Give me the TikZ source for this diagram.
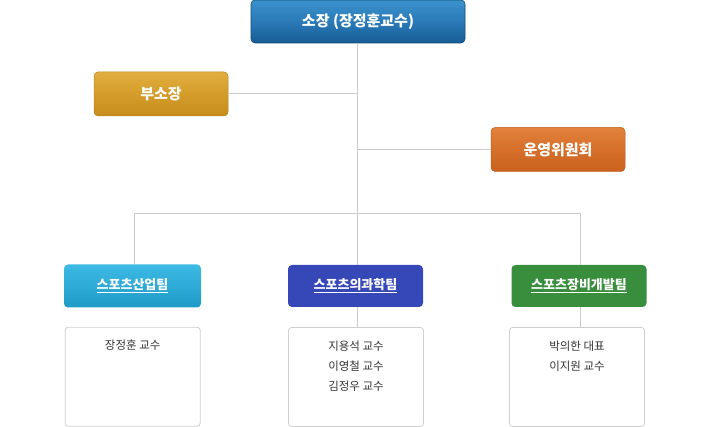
\documentclass[tikz,border=0pt]{standalone}
\usepackage{fontspec}
\setmainfont{Noto Sans CJK KR}
\definecolor{lineg}{HTML}{CCCCCC}
\definecolor{bluetop}{HTML}{3A92CC}
\definecolor{bluemid}{HTML}{2A7AB8}
\definecolor{bluebot}{HTML}{165C94}
\definecolor{goldtop}{HTML}{E2AE40}
\definecolor{goldmid}{HTML}{D49C2A}
\definecolor{goldbot}{HTML}{C68D1E}
\definecolor{orgtop}{HTML}{E2823C}
\definecolor{orgmid}{HTML}{D56F2A}
\definecolor{orgbot}{HTML}{C9621E}
\definecolor{skytop}{HTML}{3CBAE4}
\definecolor{skybot}{HTML}{1E9AC6}
\definecolor{teamblue}{HTML}{3648B8}
\definecolor{teamgreen}{HTML}{388E3C}
\definecolor{memtext}{HTML}{333333}
\definecolor{memborder}{HTML}{CFCFCF}
\tikzset{
  conn/.style={draw=lineg, line width=1pt},
  titlebox/.style={rectangle, rounded corners=4pt, text=white, font=\bfseries\fontsize{15}{17}\selectfont, inner sep=0pt, align=center},
  teambox/.style={rectangle, rounded corners=4pt, text=white, font=\bfseries\fontsize{13}{15}\selectfont, inner sep=0pt, align=center, minimum width=135pt, minimum height=42pt},
  membox/.style={rectangle, rounded corners=3pt, draw=memborder, line width=0.8pt, fill=white, minimum width=135pt, minimum height=99pt, inner sep=0pt},
  memtxt/.style={text=memtext, font=\fontsize{11.5}{20}\selectfont, align=center, anchor=north}
}
\begin{document}
\begin{tikzpicture}[x=1pt,y=-1pt]
\useasboundingbox (0,0) rectangle (715,427);
% nodes
\node[titlebox, minimum width=214pt, minimum height=43pt, top color=bluetop, bottom color=bluebot, middle color=bluemid, draw=bluebot!80!black, line width=0.6pt] (top) at (358,21.5) {소장 (장정훈교수)};
\node[titlebox, minimum width=134pt, minimum height=44pt, top color=goldtop, bottom color=goldbot, middle color=goldmid, draw=goldbot!95!black, line width=0.5pt] (bu) at (161,94) {부소장};
\node[titlebox, minimum width=134pt, minimum height=44pt, top color=orgtop, bottom color=orgbot, middle color=orgmid, draw=orgbot!95!black, line width=0.5pt] (op) at (558,149.5) {운영위원회};
\node[teambox, minimum width=137pt, minimum height=43pt, top color=skytop, bottom color=skybot] (t1) at (132.5,286) {\underline{스포츠산업팀}};
\node[teambox, fill=teamblue] (t2) at (355.5,286) {\underline{스포츠의과학팀}};
\node[teambox, fill=teamgreen] (t3) at (579,286) {\underline{스포츠장비개발팀}};
\node[membox] (m1) at (132.7,376.7) {};
\node[membox] (m2) at (356,377) {};
\node[membox] (m3) at (577,377) {};
\node[memtxt] (m1t) at (132.7,336.5) {장정훈 교수};
\node[memtxt] (m2t) at (356,337) {지용석 교수\\이영철 교수\\김정우 교수};
\node[memtxt] (m3t) at (577,337) {박의한 대표\\이지원 교수};
\coordinate (junc) at (357.5,214);
% connectors
\draw[conn] (top.south -| junc) -- (junc);
\draw[conn] (bu.east) -- (bu.east -| junc);
\draw[conn] (op.west) -- (op.west -| junc);
\draw[conn] (junc) -| (134.3,264) coordinate (t1in);
\draw[conn] (junc) -- (junc |- t2.north);
\draw[conn] (junc) -| (580.3,265) coordinate (t3in);
\draw[conn] (t2.south -| junc) -- (m2.north -| junc);
\draw[conn] (t3.south -| t3in) -- (m3.north -| t3in);
\end{tikzpicture}
\end{document}
